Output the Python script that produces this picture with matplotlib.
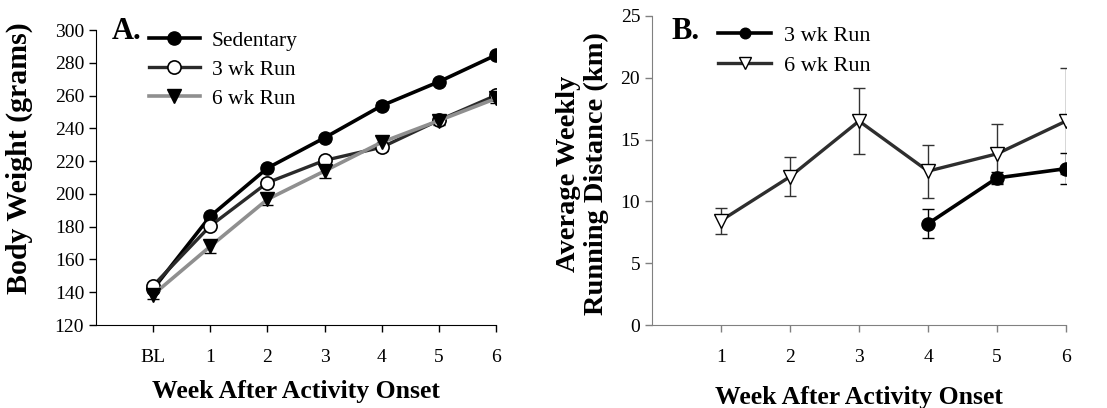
import matplotlib
matplotlib.use("Agg")
import matplotlib.pyplot as plt

plt.rcParams["font.family"] = "Liberation Serif"

# panel A: body weight
weeks_a = [0, 1, 2, 3, 4, 5, 6]
labels_a = ["BL", "1", "2", "3", "4", "5", "6"]
sedentary = [142, 186.4, 215.8, 234.3, 253.9, 268.5, 284.8]
sedentary_err = [1.5, 2, 2, 2, 2, 2, 2]
run3_a = [144, 180.5, 206.9, 220.5, 228.5, 245, 260.2]
run3_a_err = [1.5, 2, 2, 2, 2, 2, 2]
run6_a = [138.5, 168, 196.7, 214, 231.6, 244.8, 258.3]
run6_a_err = [2.5, 4, 3.5, 4, 3.5, 2.5, 3]

# panel B: running distance
weeks_b6 = [1, 2, 3, 4, 5, 6]
run6_b = [8.45, 12.0, 16.5, 12.45, 13.85, 16.5]
run6_b_err = [1.05, 1.6, 2.7, 2.15, 2.4, 4.3]
weeks_b3 = [4, 5, 6]
run3_b = [8.2, 11.9, 12.65]
run3_b_err = [1.15, 0.5, 1.25]

fig = plt.figure(figsize=(11.07, 4.08), dpi=100)
axA = fig.add_axes([0.0867, 0.2034, 0.3613, 0.7226])
axB = fig.add_axes([0.589, 0.2034, 0.374, 0.7574])

tick_fs = 14
xlab_fs = 18.5
leg_fs = 15.5

# ---- A ----
axA.errorbar(weeks_a, sedentary, yerr=sedentary_err, fmt="none", ecolor="black",
             elinewidth=1, capsize=4, zorder=2)
axA.errorbar(weeks_a, run3_a, yerr=run3_a_err, fmt="none", ecolor="black",
             elinewidth=1, capsize=4, zorder=2)
axA.errorbar(weeks_a, run6_a, yerr=run6_a_err, fmt="none", ecolor="black",
             elinewidth=1, capsize=4, zorder=2)
axA.plot(weeks_a, sedentary, color="black", lw=2.6, marker="o", ms=9.5,
         mfc="black", mec="black", label="Sedentary", zorder=3)
axA.plot(weeks_a, run3_a, color="#2a2a2a", lw=2.4, marker="o", ms=9.5,
         mfc="white", mec="black", mew=1.2, label="3 wk Run", zorder=4)
axA.plot(weeks_a, run6_a, color="#8f8f8f", lw=2.6, marker="v", ms=9.5,
         mfc="black", mec="black", label="6 wk Run", zorder=5)
axA.set_xlim(-1, 6)
axA.set_ylim(120, 300)
axA.set_yticks(range(120, 301, 20))
axA.set_xticks(weeks_a)
axA.set_xticklabels(labels_a)
axA.set_ylabel("Body Weight (grams)", fontsize=21.5, fontweight="bold")
axA.yaxis.set_label_coords(-0.158, 0.566)
axA.set_xlabel("Week After Activity Onset", fontsize=xlab_fs, fontweight="bold",
               labelpad=10)
axA.text(0.04, 0.969, "A.", transform=axA.transAxes, fontsize=22,
         fontweight="bold", va="baseline", ha="left")
axA.legend(loc="upper left", bbox_to_anchor=(0.11, 1.028), frameon=False,
           fontsize=leg_fs, handlelength=2.4, handletextpad=0.55,
           labelspacing=0.42, borderaxespad=0)

# ---- B ----
axB.errorbar(weeks_b3, run3_b, yerr=run3_b_err, fmt="none", ecolor="black",
             elinewidth=1, capsize=4, zorder=2)
axB.errorbar(weeks_b6, run6_b, yerr=run6_b_err, fmt="none", ecolor="#333333",
             elinewidth=1, capsize=4, zorder=2)
axB.plot(weeks_b3, run3_b, color="black", lw=2.6, marker="o", ms=9.5,
         mfc="black", mec="black", label="3 wk Run", zorder=3)
axB.plot(weeks_b6, run6_b, color="#2e2e2e", lw=2.4, marker="v", ms=10,
         mfc="white", mec="black", mew=1.0, label="6 wk Run", zorder=4)
axB.set_xlim(0, 6)
axB.set_ylim(0, 25)
axB.set_yticks(range(0, 26, 5))
axB.set_xticks(weeks_b6)
axB.set_ylabel("Average Weekly\nRunning Distance (km)", fontsize=20.5,
               fontweight="bold", linespacing=1.1)
axB.yaxis.set_label_coords(-0.105, 0.49)
axB.set_xlabel("Week After Activity Onset", fontsize=xlab_fs, fontweight="bold",
               labelpad=15)
axB.text(0.048, 0.926, "B.", transform=axB.transAxes, fontsize=22,
         fontweight="bold", va="baseline", ha="left")
axB.legend(loc="upper left", bbox_to_anchor=(0.138, 0.999), frameon=False,
           fontsize=16, handlelength=2.4, handletextpad=0.55,
           labelspacing=0.44, borderaxespad=0, markerscale=0.8)

for ax in (axA, axB):
    ax.spines["top"].set_visible(False)
    ax.spines["right"].set_visible(False)
    ax.tick_params(labelsize=tick_fs, direction="out", length=5, width=1)
    ax.tick_params(axis="x", pad=12)
for side in ("left", "bottom"):
    axB.spines[side].set_color("#808080")
axB.tick_params(color="#808080")

fig.savefig("out.png", dpi=100)
